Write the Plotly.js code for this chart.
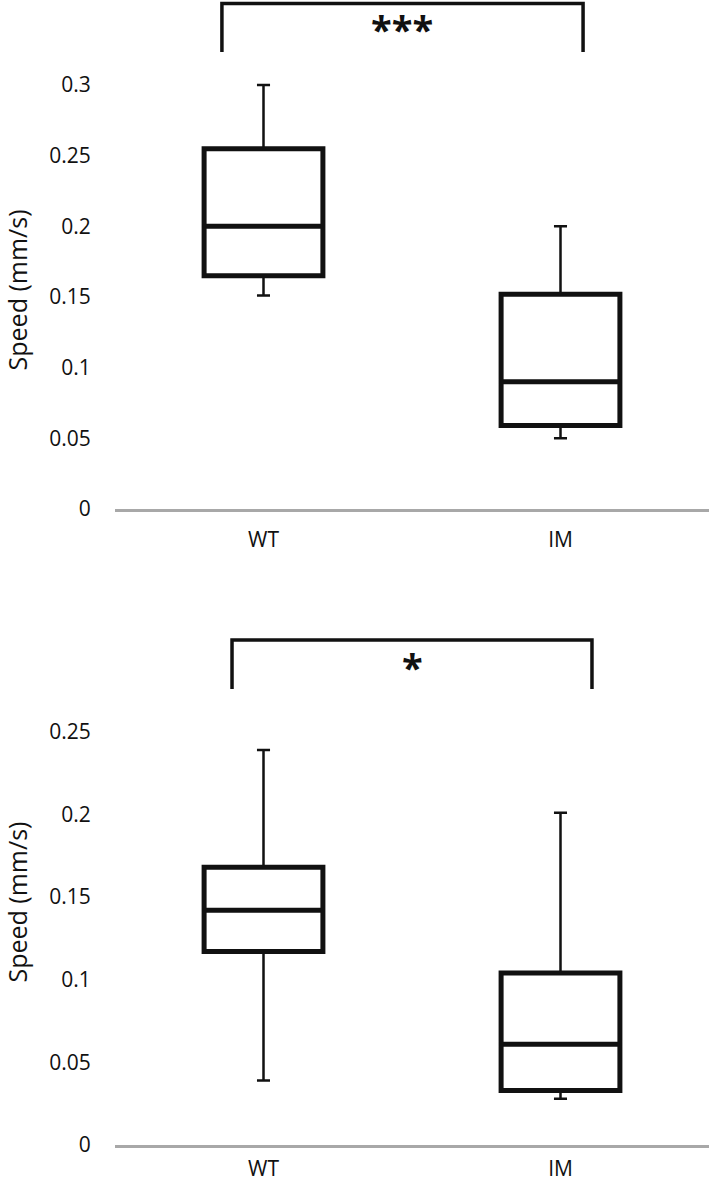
<!DOCTYPE html>
<html>
<head>
<meta charset="utf-8">
<script src="https://cdn.plot.ly/plotly-3.0.1.min.js"></script>
<style>
  html, body { margin: 0; padding: 0; background: #fff; }
  #plot { width: 709px; height: 1184px; }
</style>
</head>
<body>
<div id="plot"></div>
<script>
// --- datos ---
const groups = ['WT', 'IM'];

// panel superior
const topLower  = [0.151, 0.050];
const topQ1     = [0.165, 0.059];
const topMedian = [0.200, 0.090];
const topQ3     = [0.255, 0.152];
const topUpper  = [0.300, 0.200];
const topTicks  = [0, 0.05, 0.1, 0.15, 0.2, 0.25, 0.3];
const topStars  = '***';

// panel inferior
const botLower  = [0.039, 0.028];
const botQ1     = [0.117, 0.033];
const botMedian = [0.142, 0.061];
const botQ3     = [0.168, 0.104];
const botUpper  = [0.239, 0.201];
const botTicks  = [0, 0.05, 0.1, 0.15, 0.2, 0.25];
const botStars  = '*';

const FONT = 'Open Sans, sans-serif';
const BLACK = '#111111';

// whiskers finos + caja gruesa encima
function boxTraces(lower, q1, med, q3, upper, xa, ya) {
    const thin = {
        type: 'box', x: groups, q1: q1, median: med, q3: q3,
        lowerfence: lower, upperfence: upper,
        width: 0.4, whiskerwidth: 0.11,
        line: { color: BLACK, width: 2.5 },
        fillcolor: '#ffffff', boxpoints: false,
        hoverinfo: 'skip', xaxis: xa, yaxis: ya
    };
    const thick = {
        type: 'box', x: groups, q1: q1, median: med, q3: q3,
        lowerfence: q1, upperfence: q3,
        width: 0.4, whiskerwidth: 0,
        line: { color: BLACK, width: 5 },
        fillcolor: '#ffffff', boxpoints: false,
        hoverinfo: 'skip', xaxis: xa, yaxis: ya
    };
    return [thin, thick];
}

function xAxis(anchor, tlen) {
    return {
        anchor: anchor, type: 'category', range: [-0.5, 1.5],
        showline: true, linecolor: '#a8a8a8', linewidth: 2.5,
        showgrid: false, zeroline: false,
        ticks: 'outside', ticklen: tlen, tickcolor: 'rgba(0,0,0,0)',
        tickfont: { family: FONT, size: 21, color: BLACK },
        fixedrange: true
    };
}

function yAxis(anchor, domain, range, ticks) {
    return {
        anchor: anchor, domain: domain, range: range,
        tickvals: ticks, ticktext: ticks.map(String),
        showline: false, showgrid: false, zeroline: false,
        ticks: 'outside', ticklen: 19, tickcolor: 'rgba(0,0,0,0)',
        tickfont: { family: FONT, size: 21, color: BLACK },
        title: { text: 'Speed (mm/s)', font: { family: FONT, size: 25, color: BLACK }, standoff: 18 },
        fixedrange: true
    };
}

// corchete de significancia (x en categorias, y en papel)
function bracket(xa, x0, x1, yTop, yLeg) {
    return {
        type: 'path', xref: xa, yref: 'paper',
        path: `M ${x0},${yLeg} L ${x0},${yTop} L ${x1},${yTop} L ${x1},${yLeg}`,
        line: { color: BLACK, width: 3.5 }
    };
}

const data = [].concat(
    boxTraces(topLower, topQ1, topMedian, topQ3, topUpper, 'x', 'y'),
    boxTraces(botLower, botQ1, botMedian, botQ3, botUpper, 'x2', 'y2')
);

const layout = {
    width: 709, height: 1184,
    margin: { l: 115, r: 0, t: 0, b: 0 },
    paper_bgcolor: '#ffffff', plot_bgcolor: '#ffffff',
    showlegend: false, boxmode: 'overlay',
    xaxis: xAxis('y', 10),
    yaxis: yAxis('x', [0.5701, 0.9401], [0, 0.31], topTicks),
    xaxis2: xAxis('y2', 3),
    yaxis2: yAxis('x2', [0.0329, 0.4434], [0, 0.294], botTicks),
    shapes: [
        bracket('x', -0.14, 1.076, 0.9970, 0.9561),
        bracket('x2', -0.106, 1.106, 0.4595, 0.4181)
    ],
    annotations: [
        { xref: 'x', yref: 'paper', x: 0.466, y: 0.9755, text: topStars, showarrow: false,
          font: { family: FONT, size: 38, color: BLACK, weight: 'bold' }, yanchor: 'middle' },
        { xref: 'x2', yref: 'paper', x: 0.503, y: 0.4365, text: botStars, showarrow: false,
          font: { family: FONT, size: 38, color: BLACK, weight: 'bold' }, yanchor: 'middle' }
    ]
};

Plotly.newPlot('plot', data, layout, { displayModeBar: false, staticPlot: true });
</script>
</body>
</html>
